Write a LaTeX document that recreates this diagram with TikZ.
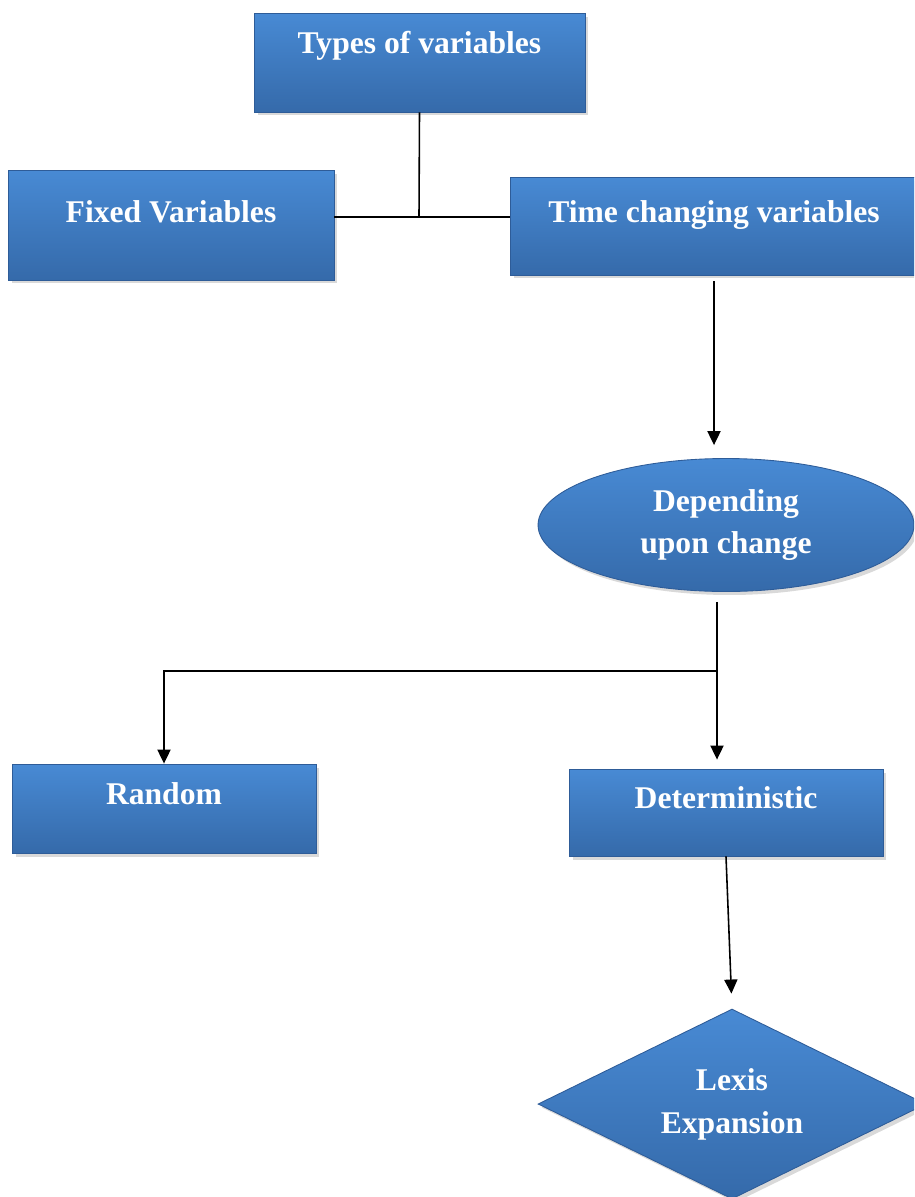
\documentclass[tikz,border=0pt]{standalone}
\usepackage{fontspec}
\setmainfont{Liberation Serif}
\usetikzlibrary{arrows.meta,shapes.geometric,shadows}

\definecolor{boxtop}{RGB}{72,138,212}
\definecolor{boxbot}{RGB}{53,106,170}
\definecolor{boxedge}{RGB}{46,92,152}

\tikzset{
  blockbox/.style={rectangle, top color=boxtop, bottom color=boxbot, draw=boxedge,
    line width=0.5pt, text=white, font=\fontsize{18}{24.4}\selectfont\bfseries,
    inner sep=0pt, anchor=base,
    drop shadow={shadow xshift=0.07cm, shadow yshift=-0.07cm, opacity=0.3}},
  roundbox/.style={blockbox, ellipse, anchor=center, align=center},
  diamondbox/.style={blockbox, diamond, aspect=2, anchor=center, align=center},
  link/.style={line width=0.9pt},
  arr/.style={link, -{Triangle[length=8pt,width=7.5pt]}}
}

\begin{document}
\begin{tikzpicture}[x=0.02cm,y=-0.02cm]

  % Parameters
  \def\pw{914}
  \def\ph{1197}
  \clip (0,0) rectangle (\pw,\ph);

  % top boxes
  \node[blockbox, minimum width=6.62cm, text height=0.8cm, text depth=1.18cm] (types) at (419.5,53) {Types of variables};
  \node[blockbox, minimum width=6.52cm, text height=1.04cm, text depth=1.16cm] (fixed) at (171,222) {Fixed Variables};
  \node[blockbox, minimum width=8.16cm, text height=0.9cm, text depth=1.06cm] (timevar) at (714,222) {Time changing variables};

  % middle
  \node[roundbox, minimum width=7.52cm, minimum height=2.66cm] (depend) at (726,525) {Depending\\upon change};

  % bottom boxes
  \node[blockbox, minimum width=6.08cm, text height=0.8cm, text depth=0.98cm] (random) at (164,804) {Random};
  \node[blockbox, minimum width=6.28cm, text height=0.78cm, text depth=0.96cm] (determ) at (726,808) {Deterministic};
  \node[diamondbox, minimum width=7.76cm, minimum height=3.8cm] (lexis) at (732,1104) {Lexis\\Expansion};

  % connectors
  \coordinate (joint) at (419,217);
  \draw[link] (types.south) -- (joint);
  \draw[link] (fixed.east |- joint) -- (timevar.west |- joint);
  \draw[arr, shorten <=0.12cm, shorten >=0.26cm] (timevar.south) -- (timevar.south |- depend.north);

  \coordinate (split) at (717,671);
  \draw[link, shorten <=0.2cm] (split |- depend.south) -- (split);
  \draw[arr, shorten >=0.18cm] (split) -- (split |- determ.north);
  \draw[arr] (split) -| (random.north);
  \draw[arr, shorten >=0.3cm] (determ.south) -- (lexis.north);

\end{tikzpicture}
\end{document}
